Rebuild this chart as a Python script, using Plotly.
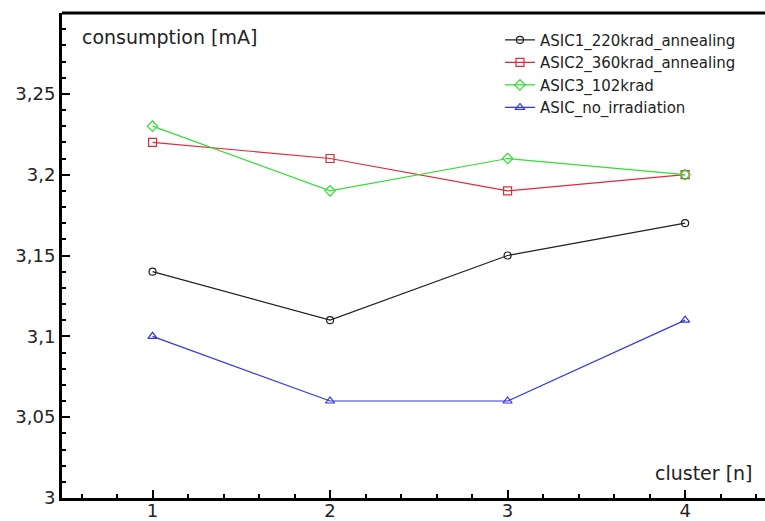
import plotly.graph_objects as go

clusters = [1, 2, 3, 4]
asic1_220krad_annealing = [3.14, 3.11, 3.15, 3.17]
asic2_360krad_annealing = [3.22, 3.21, 3.19, 3.20]
asic3_102krad = [3.23, 3.19, 3.21, 3.20]
asic_no_irradiation = [3.10, 3.06, 3.06, 3.11]

series_names = ["ASIC1_220krad_annealing", "ASIC2_360krad_annealing", "ASIC3_102krad", "ASIC_no_irradiation"]
series_colors = ["#202020", "#e0283c", "#33dd33", "#3535dd"]
series_symbols = ["circle-open", "square-open", "diamond-open", "triangle-up-open"]
series_sizes = [7, 8, 8, 8]

y_tickvals = [3.0, 3.05, 3.1, 3.15, 3.2, 3.25]
y_ticktext = ["3", "3,05", "3,1", "3,15", "3,2", "3,25"]
x_tickvals = [1, 2, 3, 4]
x_ticktext = ["1", "2", "3", "4"]

fig = go.Figure()
for name, ys, col, sym, sz in zip(series_names,
                                  [asic1_220krad_annealing, asic2_360krad_annealing, asic3_102krad, asic_no_irradiation],
                                  series_colors, series_symbols, series_sizes):
    fig.add_trace(go.Scatter(
        x=clusters, y=ys, name=name, mode="lines+markers",
        line=dict(color=col, width=1.2),
        marker=dict(symbol=sym, size=sz, color=col, line=dict(width=1.2, color=col)),
    ))

FONT = "DejaVu Sans"
TXT = "#222222"
fig.update_layout(
    width=765, height=521,
    margin=dict(l=62, r=0, t=13, b=23),
    paper_bgcolor="white", plot_bgcolor="white",
    font=dict(family=FONT, color=TXT),
    showlegend=True,
    legend=dict(x=0.623, y=0.978, xanchor="left", yanchor="top",
                font=dict(family=FONT, size=15, color=TXT),
                bgcolor="rgba(0,0,0,0)", tracegroupgap=0, itemwidth=30),
    xaxis=dict(range=[0.49, 4.45], tickmode="array", tickvals=x_tickvals, ticktext=x_ticktext,
               automargin=False,
               showgrid=False, zeroline=False, showline=True, linecolor="black", linewidth=3,
               ticks="inside", ticklen=8, tickwidth=2, tickcolor="black",
               tickfont=dict(family=FONT, size=18, color=TXT), ticklabelstandoff=-6,
               minor=dict(dtick=0.2, tick0=0, ticks="inside", ticklen=4, tickwidth=2, tickcolor="black", showgrid=False)),
    yaxis=dict(range=[3.0, 3.3], tickmode="array", tickvals=y_tickvals, ticktext=y_ticktext,
               automargin=False,
               showgrid=False, zeroline=False, showline=True, linecolor="black", linewidth=3,
               ticks="inside", ticklen=8, tickwidth=2, tickcolor="black",
               tickfont=dict(family=FONT, size=18, color=TXT),
               minor=dict(dtick=0.01, tick0=3.0, ticks="inside", ticklen=4, tickwidth=2, tickcolor="black", showgrid=False)),
)

fig.add_shape(type="line", xref="paper", yref="paper", x0=0, x1=1.01, y0=1, y1=1,
              line=dict(color="black", width=3))

fig.add_annotation(text="consumption [mA]", xref="paper", yref="paper", x=0.026, y=0.95,
                   xanchor="left", yanchor="middle", showarrow=False,
                   font=dict(family=FONT, size=19, color=TXT))
fig.add_annotation(text="cluster [n]", xref="paper", yref="paper", x=0.986, y=0.052,
                   xanchor="right", yanchor="middle", showarrow=False,
                   font=dict(family=FONT, size=19, color=TXT))

fig.write_html("out.html", config={"displayModeBar": False},
               post_script="document.body.style.margin='0';document.body.style.overflow='hidden';")
